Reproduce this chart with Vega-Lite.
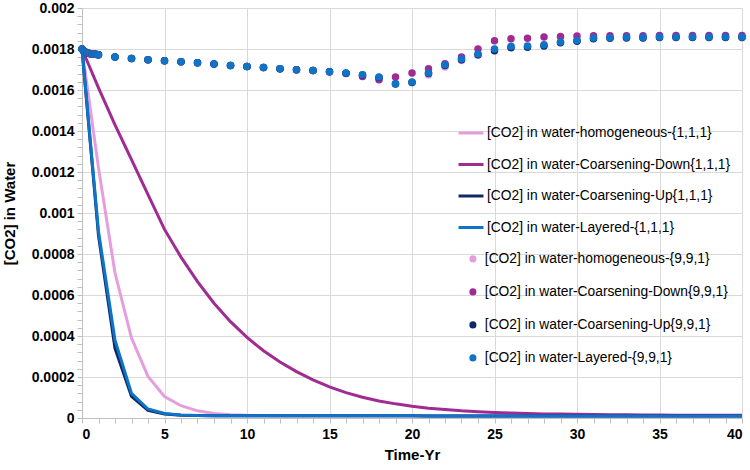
{
  "$schema": "https://vega.github.io/schema/vega-lite/v6.json",
  "width": 660,
  "height": 410,
  "autosize": "none",
  "padding": {"left": 82, "top": 8, "right": 8, "bottom": 52},
  "background": "white",
  "config": {
    "view": {"stroke": null},
    "font": "Liberation Sans",
    "axis": {
      "labelFont": "Liberation Sans",
      "labelFontWeight": "bold",
      "labelFontSize": 14,
      "labelColor": "#000000",
      "titleFont": "Liberation Sans",
      "titleFontWeight": "bold",
      "titleFontSize": 15,
      "titleColor": "#000000",
      "gridColor": "#D9D9D9",
      "domainColor": "#BFBFBF",
      "tickColor": "#BFBFBF",
      "tickSize": 5,
      "labelPadding": 3,
      "labelOverlap": false
    },
    "legend": {
      "labelFont": "Liberation Sans",
      "labelFontSize": 13.8,
      "labelColor": "#000000",
      "labelLimit": 400
    }
  },
  "datasets": {
    "lines": [
      {"t": 0, "hom": 0.0018, "cdown": 0.0018, "cup": 0.0018, "lay": 0.0018},
      {"t": 1, "hom": 0.00122, "cdown": 0.00161, "cup": 0.00089, "lay": 0.00091},
      {"t": 2, "hom": 0.000707, "cdown": 0.00143, "cup": 0.00034, "lay": 0.00038},
      {"t": 3, "hom": 0.00039, "cdown": 0.00126, "cup": 0.000105, "lay": 0.00012},
      {"t": 4, "hom": 0.000203, "cdown": 0.00109, "cup": 0.000037, "lay": 0.000044},
      {"t": 5, "hom": 0.000105, "cdown": 0.00092, "cup": 0.00002, "lay": 0.000022},
      {"t": 6, "hom": 0.00006, "cdown": 0.000785, "cup": 0.000014, "lay": 0.000015},
      {"t": 7, "hom": 0.000035, "cdown": 0.000665, "cup": 0.000012, "lay": 0.000012},
      {"t": 8, "hom": 0.000022, "cdown": 0.00056, "cup": 0.000011, "lay": 0.000011},
      {"t": 9, "hom": 0.000016, "cdown": 0.00047, "cup": 0.000011, "lay": 0.000011},
      {"t": 10, "hom": 0.000013, "cdown": 0.000393, "cup": 0.000011, "lay": 0.000011},
      {"t": 11, "hom": 0.000012, "cdown": 0.000328, "cup": 0.000011, "lay": 0.000011},
      {"t": 12, "hom": 0.000011, "cdown": 0.000273, "cup": 0.000011, "lay": 0.000011},
      {"t": 13, "hom": 0.000011, "cdown": 0.000226, "cup": 0.000011, "lay": 0.000011},
      {"t": 14, "hom": 0.000011, "cdown": 0.000186, "cup": 0.000011, "lay": 0.000011},
      {"t": 15, "hom": 0.000011, "cdown": 0.000152, "cup": 0.000011, "lay": 0.000011},
      {"t": 16, "hom": 0.000011, "cdown": 0.000124, "cup": 0.000011, "lay": 0.000011},
      {"t": 17, "hom": 0.000011, "cdown": 0.000101, "cup": 0.000011, "lay": 0.000011},
      {"t": 18, "hom": 0.000011, "cdown": 0.000083, "cup": 0.000011, "lay": 0.000011},
      {"t": 19, "hom": 0.000011, "cdown": 0.000069, "cup": 0.000011, "lay": 0.000011},
      {"t": 20, "hom": 0.000011, "cdown": 0.000057, "cup": 0.000011, "lay": 0.000011},
      {"t": 21, "hom": 0.00001, "cdown": 0.000048, "cup": 0.00001, "lay": 0.00001},
      {"t": 22, "hom": 0.00001, "cdown": 0.000041, "cup": 0.00001, "lay": 0.00001},
      {"t": 23, "hom": 0.00001, "cdown": 0.000035, "cup": 0.00001, "lay": 0.00001},
      {"t": 24, "hom": 0.00001, "cdown": 0.000031, "cup": 0.00001, "lay": 0.00001},
      {"t": 25, "hom": 0.00001, "cdown": 0.000027, "cup": 0.00001, "lay": 0.00001},
      {"t": 26, "hom": 0.00001, "cdown": 0.000024, "cup": 0.00001, "lay": 0.00001},
      {"t": 27, "hom": 0.00001, "cdown": 0.000022, "cup": 0.00001, "lay": 0.00001},
      {"t": 28, "hom": 0.00001, "cdown": 0.00002, "cup": 0.00001, "lay": 0.00001},
      {"t": 29, "hom": 0.00001, "cdown": 0.000019, "cup": 0.00001, "lay": 0.00001},
      {"t": 30, "hom": 0.00001, "cdown": 0.000018, "cup": 0.00001, "lay": 0.00001},
      {"t": 31, "hom": 0.00001, "cdown": 0.000017, "cup": 0.00001, "lay": 0.00001},
      {"t": 32, "hom": 0.00001, "cdown": 0.000016, "cup": 0.00001, "lay": 0.00001},
      {"t": 33, "hom": 0.00001, "cdown": 0.000016, "cup": 0.00001, "lay": 0.00001},
      {"t": 34, "hom": 0.00001, "cdown": 0.000015, "cup": 0.00001, "lay": 0.00001},
      {"t": 35, "hom": 0.00001, "cdown": 0.000015, "cup": 0.00001, "lay": 0.00001},
      {"t": 36, "hom": 0.00001, "cdown": 0.000014, "cup": 0.00001, "lay": 0.00001},
      {"t": 37, "hom": 0.00001, "cdown": 0.000014, "cup": 0.00001, "lay": 0.00001},
      {"t": 38, "hom": 0.00001, "cdown": 0.000014, "cup": 0.00001, "lay": 0.00001},
      {"t": 39, "hom": 0.00001, "cdown": 0.000013, "cup": 0.00001, "lay": 0.00001},
      {"t": 40, "hom": 0.00001, "cdown": 0.000013, "cup": 0.00001, "lay": 0.00001}
    ],
    "points": [
      {"t": 0, "hom9": 0.0018, "cdown9": 0.0018, "cup9": 0.0018, "lay9": 0.0018},
      {"t": 0.1, "hom9": 0.00179, "cdown9": 0.00179, "cup9": 0.00179, "lay9": 0.00179},
      {"t": 0.2, "hom9": 0.001785, "cdown9": 0.001785, "cup9": 0.001785, "lay9": 0.001785},
      {"t": 0.3, "hom9": 0.001781, "cdown9": 0.001781, "cup9": 0.001781, "lay9": 0.001781},
      {"t": 0.4, "hom9": 0.001779, "cdown9": 0.001779, "cup9": 0.001779, "lay9": 0.001779},
      {"t": 0.5, "hom9": 0.001777, "cdown9": 0.001777, "cup9": 0.001777, "lay9": 0.001777},
      {"t": 0.6, "hom9": 0.001776, "cdown9": 0.001776, "cup9": 0.001776, "lay9": 0.001776},
      {"t": 0.7, "hom9": 0.001775, "cdown9": 0.001775, "cup9": 0.001775, "lay9": 0.001775},
      {"t": 0.8, "hom9": 0.001774, "cdown9": 0.001774, "cup9": 0.001774, "lay9": 0.001774},
      {"t": 0.9, "hom9": 0.001773, "cdown9": 0.001773, "cup9": 0.001773, "lay9": 0.001773},
      {"t": 1, "hom9": 0.001772, "cdown9": 0.001772, "cup9": 0.001772, "lay9": 0.001772},
      {"t": 2, "hom9": 0.001761, "cdown9": 0.001761, "cup9": 0.001761, "lay9": 0.001761},
      {"t": 3, "hom9": 0.001754, "cdown9": 0.001754, "cup9": 0.001754, "lay9": 0.001754},
      {"t": 4, "hom9": 0.001748, "cdown9": 0.001748, "cup9": 0.001748, "lay9": 0.001748},
      {"t": 5, "hom9": 0.001743, "cdown9": 0.001743, "cup9": 0.001743, "lay9": 0.001743},
      {"t": 6, "hom9": 0.001738, "cdown9": 0.001738, "cup9": 0.001738, "lay9": 0.001738},
      {"t": 7, "hom9": 0.001733, "cdown9": 0.001733, "cup9": 0.001733, "lay9": 0.001733},
      {"t": 8, "hom9": 0.001727, "cdown9": 0.001727, "cup9": 0.001727, "lay9": 0.001727},
      {"t": 9, "hom9": 0.00172, "cdown9": 0.00172, "cup9": 0.00172, "lay9": 0.00172},
      {"t": 10, "hom9": 0.001715, "cdown9": 0.001715, "cup9": 0.001715, "lay9": 0.001715},
      {"t": 11, "hom9": 0.00171, "cdown9": 0.00171, "cup9": 0.00171, "lay9": 0.00171},
      {"t": 12, "hom9": 0.001704, "cdown9": 0.001704, "cup9": 0.001704, "lay9": 0.001704},
      {"t": 13, "hom9": 0.001699, "cdown9": 0.001699, "cup9": 0.001699, "lay9": 0.001699},
      {"t": 14, "hom9": 0.001695, "cdown9": 0.001695, "cup9": 0.001695, "lay9": 0.001695},
      {"t": 15, "hom9": 0.001689, "cdown9": 0.001689, "cup9": 0.001689, "lay9": 0.001689},
      {"t": 16, "hom9": 0.001682, "cdown9": 0.00168, "cup9": 0.001682, "lay9": 0.001683},
      {"t": 17, "hom9": 0.001668, "cdown9": 0.001666, "cup9": 0.001673, "lay9": 0.001675},
      {"t": 18, "hom9": 0.001655, "cdown9": 0.00165, "cup9": 0.001661, "lay9": 0.001663},
      {"t": 19, "hom9": 0.001632, "cdown9": 0.001663, "cup9": 0.001629, "lay9": 0.001631},
      {"t": 20, "hom9": 0.001636, "cdown9": 0.001683, "cup9": 0.001637, "lay9": 0.001639},
      {"t": 21, "hom9": 0.001673, "cdown9": 0.001704, "cup9": 0.00168, "lay9": 0.001683},
      {"t": 22, "hom9": 0.001712, "cdown9": 0.001728, "cup9": 0.00172, "lay9": 0.001723},
      {"t": 23, "hom9": 0.001744, "cdown9": 0.001761, "cup9": 0.001748, "lay9": 0.001751},
      {"t": 24, "hom9": 0.00177, "cdown9": 0.0018, "cup9": 0.001772, "lay9": 0.001776},
      {"t": 25, "hom9": 0.001796, "cdown9": 0.00184, "cup9": 0.001792, "lay9": 0.0018},
      {"t": 26, "hom9": 0.00181, "cdown9": 0.00185, "cup9": 0.001806, "lay9": 0.001813},
      {"t": 27, "hom9": 0.001812, "cdown9": 0.001853, "cup9": 0.001808, "lay9": 0.001815},
      {"t": 28, "hom9": 0.00182, "cdown9": 0.001858, "cup9": 0.001815, "lay9": 0.001821},
      {"t": 29, "hom9": 0.001833, "cdown9": 0.001861, "cup9": 0.00183, "lay9": 0.001834},
      {"t": 30, "hom9": 0.001841, "cdown9": 0.001864, "cup9": 0.001838, "lay9": 0.001842},
      {"t": 31, "hom9": 0.001853, "cdown9": 0.001865, "cup9": 0.00185, "lay9": 0.001854},
      {"t": 32, "hom9": 0.001854, "cdown9": 0.001865, "cup9": 0.001852, "lay9": 0.001855},
      {"t": 33, "hom9": 0.001856, "cdown9": 0.001865, "cup9": 0.001854, "lay9": 0.001857},
      {"t": 34, "hom9": 0.001856, "cdown9": 0.001865, "cup9": 0.001854, "lay9": 0.001857},
      {"t": 35, "hom9": 0.001858, "cdown9": 0.001866, "cup9": 0.001856, "lay9": 0.001859},
      {"t": 36, "hom9": 0.001858, "cdown9": 0.001866, "cup9": 0.001856, "lay9": 0.001859},
      {"t": 37, "hom9": 0.001858, "cdown9": 0.001866, "cup9": 0.001856, "lay9": 0.001859},
      {"t": 38, "hom9": 0.001858, "cdown9": 0.001866, "cup9": 0.001856, "lay9": 0.001859},
      {"t": 39, "hom9": 0.001858, "cdown9": 0.001866, "cup9": 0.001856, "lay9": 0.001859},
      {"t": 40, "hom9": 0.001858, "cdown9": 0.001866, "cup9": 0.001856, "lay9": 0.001859}
    ]
  },
  "encoding": {
    "x": {
      "field": "t",
      "type": "quantitative",
      "scale": {"domain": [0, 40], "nice": false, "zero": false},
      "axis": {
        "title": "Time-Yr",
        "values": [0,1,2,3,4,5,6,7,8,9,10,11,12,13,14,15,16,17,18,19,20,21,22,23,24,25,26,27,28,29,30,31,32,33,34,35,36,37,38,39,40],
        "labelExpr": "datum.value % 5 === 0 ? datum.label : ''",
        "gridOpacity": {"condition": {"test": "datum.value % 5 === 0", "value": 1}, "value": 0},
        "labelPadding": 4,
        "titlePadding": 6
      }
    },
    "y": {
      "field": "v",
      "type": "quantitative",
      "scale": {"domain": [0, 0.002], "nice": false},
      "axis": {
        "title": "[CO2] in Water",
        "values": [0, 0.00004, 0.00008, 0.00012, 0.00016, 0.0002, 0.00024, 0.00028, 0.00032, 0.00036, 0.0004, 0.00044, 0.00048, 0.00052, 0.00056, 0.0006, 0.00064, 0.00068, 0.00072, 0.00076, 0.0008, 0.00084, 0.00088, 0.00092, 0.00096, 0.001, 0.00104, 0.00108, 0.00112, 0.00116, 0.0012, 0.00124, 0.00128, 0.00132, 0.00136, 0.0014, 0.00144, 0.00148, 0.00152, 0.00156, 0.0016, 0.00164, 0.00168, 0.00172, 0.00176, 0.0018, 0.00184, 0.00188, 0.00192, 0.00196, 0.002],
        "labelExpr": "abs(datum.value * 5000 - round(datum.value * 5000)) < 0.001 ? format(datum.value, '~g') : ''",
        "gridOpacity": {"condition": {"test": "abs(datum.value * 5000 - round(datum.value * 5000)) < 0.001", "value": 1}, "value": 0},
        "titlePadding": 14
      }
    }
  },
  "layer": [
    {
      "data": {"name": "lines"},
      "transform": [{"fold": ["hom", "cdown", "cup", "lay"], "as": ["series", "v"]}],
      "mark": {"type": "line", "strokeWidth": 3},
      "encoding": {
        "stroke": {
          "field": "series",
          "type": "nominal",
          "scale": {"domain": ["hom", "cdown", "cup", "lay"], "range": ["#E59EDD", "#A02B93", "#0E2A66", "#0F74C8"]},
          "legend": {
            "title": null,
            "orient": "none",
            "legendX": 375,
            "legendY": 111,
            "symbolType": "stroke",
            "symbolSize": 625,
            "symbolStrokeWidth": 3,
            "labelOffset": 2,
            "rowPadding": 10.5,
            "padding": 0,
            "labelExpr": "datum.label === 'hom' ? '[CO2] in water-homogeneous-{1,1,1}' : datum.label === 'cdown' ? '[CO2] in water-Coarsening-Down{1,1,1}' : datum.label === 'cup' ? '[CO2] in water-Coarsening-Up{1,1,1}' : '[CO2] in water-Layered-{1,1,1}'"
          }
        }
      }
    },
    {
      "data": {"name": "points"},
      "transform": [{"fold": ["hom9", "cdown9", "cup9", "lay9"], "as": ["series9", "v"]}],
      "mark": {"type": "point", "filled": true, "size": 56, "opacity": 1, "shape": "circle"},
      "encoding": {
        "fill": {
          "field": "series9",
          "type": "nominal",
          "scale": {"domain": ["hom9", "cdown9", "cup9", "lay9"], "range": ["#E59EDD", "#A02B93", "#0E2A66", "#0F74C8"]},
          "legend": {
            "title": null,
            "orient": "none",
            "legendX": 384,
            "legendY": 244,
            "symbolType": "circle",
            "symbolSize": 50,
            "symbolStrokeWidth": 0,
            "labelOffset": 5,
            "rowPadding": 18,
            "padding": 0,
            "labelExpr": "datum.label === 'hom9' ? '[CO2] in water-homogeneous-{9,9,1}' : datum.label === 'cdown9' ? '[CO2] in water-Coarsening-Down{9,9,1}' : datum.label === 'cup9' ? '[CO2] in water-Coarsening-Up{9,9,1}' : '[CO2] in water-Layered-{9,9,1}'"
          }
        }
      }
    }
  ]
}
